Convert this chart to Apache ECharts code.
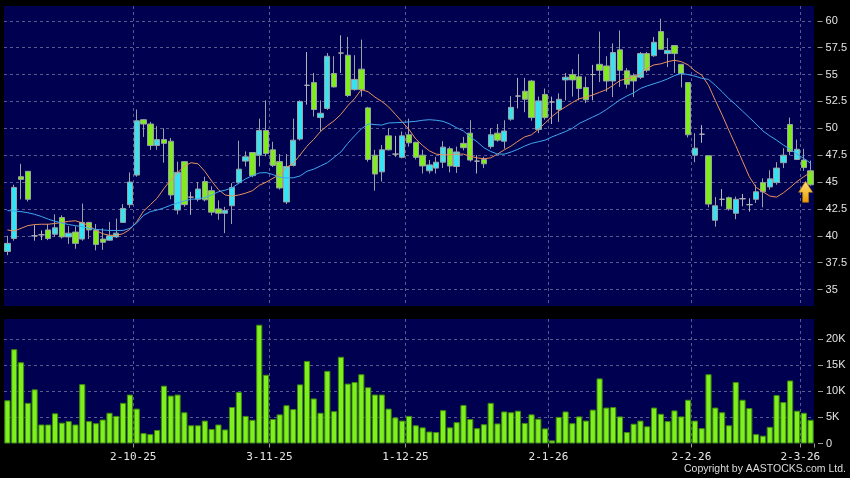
<!DOCTYPE html>
<html><head><meta charset="utf-8">
<script src="https://cdn.jsdelivr.net/npm/echarts@6/dist/echarts.min.js"></script>
<style>html,body{margin:0;padding:0;background:#000;}#c{width:850px;height:478px;}</style>
</head><body><div id="c"></div>
<script>
const dates = ['4-9-25','5-9-25','8-9-25','9-9-25','10-9-25','11-9-25','12-9-25','15-9-25','16-9-25','17-9-25','18-9-25','19-9-25','22-9-25','23-9-25','24-9-25','25-9-25','26-9-25','29-9-25','30-9-25',
'2-10-25','3-10-25','6-10-25','8-10-25','9-10-25','10-10-25','13-10-25','14-10-25','15-10-25','16-10-25','17-10-25','20-10-25','21-10-25','22-10-25','23-10-25','24-10-25','27-10-25','28-10-25','30-10-25','31-10-25',
'3-11-25','4-11-25','5-11-25','6-11-25','7-11-25','10-11-25','11-11-25','12-11-25','13-11-25','14-11-25','17-11-25','18-11-25','19-11-25','20-11-25','21-11-25','24-11-25','25-11-25','26-11-25','27-11-25','28-11-25',
'1-12-25','2-12-25','3-12-25','4-12-25','5-12-25','8-12-25','9-12-25','10-12-25','11-12-25','12-12-25','15-12-25','16-12-25','17-12-25','18-12-25','19-12-25','22-12-25','23-12-25','24-12-25','29-12-25','30-12-25','31-12-25',
'2-1-26','5-1-26','6-1-26','7-1-26','8-1-26','9-1-26','12-1-26','13-1-26','14-1-26','15-1-26','16-1-26','19-1-26','20-1-26','21-1-26','22-1-26','23-1-26','26-1-26','27-1-26','28-1-26','29-1-26','30-1-26',
'2-2-26','3-2-26','4-2-26','5-2-26','6-2-26','9-2-26','10-2-26','11-2-26','12-2-26','13-2-26','20-2-26','23-2-26','24-2-26','25-2-26','26-2-26','27-2-26',
'2-3-26','3-3-26'];
const tickLabels = ['2-10-25','3-11-25','1-12-25','2-1-26','2-2-26','2-3-26'];
const opens = [38.55,39.75,45.5,46.0,40.0,40.1,40.55,40.15,41.7,39.9,40.35,39.7,41.25,40.5,39.7,39.6,39.9,41.25,42.9,
45.65,50.8,50.4,48.4,48.95,48.8,42.4,46.9,43.6,43.4,45.05,44.2,42.5,42.1,42.8,44.95,46.95,47.75,47.5,49.8,
48.0,46.9,43.15,46.55,49.0,54.0,54.25,51.0,51.85,55.1,57.0,56.8,53.6,55.5,51.9,47.5,45.95,49.3,47.6,47.3,
49.4,48.7,47.5,46.05,46.3,46.85,48.1,46.45,48.6,49.55,46.95,47.1,48.3,49.55,48.8,50.85,53.0,53.45,54.4,49.9,53.15,
52.45,51.75,54.5,55.0,54.8,53.8,55.0,55.95,55.8,54.4,57.3,55.35,54.9,54.75,56.95,56.75,59.0,56.95,57.7,55.95,54.25,
47.5,49.45,47.45,41.45,43.4,43.55,42.1,43.45,42.9,43.4,44.95,44.55,44.95,46.8,50.35,47.1,
47.05,46.05];
const closes = [39.3,44.5,45.25,43.4,40.0,40.1,39.75,40.75,39.9,40.25,39.3,41.25,40.55,39.2,39.4,40.0,40.25,42.55,45.0,
50.7,50.4,48.4,48.95,48.6,43.8,45.9,42.9,43.6,44.35,43.35,42.2,42.1,42.35,44.5,46.2,47.35,45.6,49.8,47.65,
46.55,44.45,46.45,48.9,52.5,54.0,51.75,51.4,56.7,53.85,57.0,53.05,54.55,53.6,47.1,45.75,48.0,48.0,47.6,49.3,
48.65,47.3,46.5,46.6,46.85,48.25,46.5,47.8,48.2,47.05,46.95,46.7,49.4,48.9,49.75,51.95,53.0,52.7,51.0,52.55,51.0,
52.45,52.7,54.75,54.5,53.7,52.65,55.0,55.4,54.4,57.05,55.4,54.1,54.4,56.95,55.4,58.0,57.35,57.25,56.95,55.1,49.4,
48.15,49.45,42.95,42.8,43.4,42.5,43.4,43.45,42.9,44.1,44.1,45.3,46.3,47.5,47.85,48.05,
46.35,44.75];
const lows = [38.2,39.55,43.4,43.2,39.55,39.6,39.6,39.9,39.75,39.25,38.8,39.55,39.7,38.65,38.7,39.55,39.8,41.2,42.6,
45.5,49.2,48.0,48.0,46.8,43.4,42.0,42.7,41.95,43.2,43.2,41.9,41.5,40.25,41.1,44.8,46.45,45.45,46.45,47.4,
46.4,44.3,42.95,46.45,48.85,52.2,51.1,49.7,51.7,53.8,55.15,52.9,53.5,52.95,46.9,44.2,45.05,47.95,47.35,47.2,
48.3,47.1,45.8,45.8,45.8,46.3,45.9,45.85,47.95,46.9,45.8,46.3,48.1,48.75,48.1,50.7,51.85,51.5,50.7,49.55,50.8,
50.4,50.6,52.6,52.95,52.6,52.35,52.6,54.3,53.4,52.9,53.85,53.7,52.9,54.6,55.2,56.65,57.3,55.7,55.15,53.8,49.15,
46.85,48.65,42.65,40.85,42.75,42.35,41.55,42.75,42.25,43.05,42.65,44.3,44.75,46.3,47.5,47.05,
46.05,44.65];
const highs = [40.0,44.75,46.7,46.0,41.0,40.5,41.1,42.0,41.9,40.9,40.9,43.0,41.3,41.1,40.7,41.3,41.6,42.95,45.9,
51.75,50.85,50.6,50.2,50.0,49.1,46.9,46.9,44.1,45.0,45.5,44.6,43.3,42.7,44.9,48.85,47.85,47.75,50.9,52.6,
48.75,47.6,47.6,50.9,52.6,57.1,55.15,52.6,57.0,56.7,58.65,58.5,56.8,58.25,52.0,48.0,48.45,50.0,49.3,49.7,
50.9,48.75,48.0,47.05,47.35,48.8,48.3,48.3,49.2,50.75,47.5,47.35,50.0,50.4,50.75,53.0,54.7,54.7,54.5,52.95,53.7,
52.95,53.25,55.15,55.5,56.9,54.8,55.9,59.0,56.7,57.9,59.1,55.6,55.1,57.1,57.1,58.5,60.2,58.4,57.75,56.0,54.3,
49.55,50.3,47.45,43.6,44.35,43.65,43.65,43.9,43.5,44.75,45.35,46.1,46.85,48.15,51.0,48.95,
48.1,47.0];
const volumesK = [8.3,18.1,15.6,7.8,10.4,3.65,3.65,5.8,4.0,4.3,3.65,11.4,4.3,3.9,4.6,5.9,5.3,7.8,9.4,
6.7,2.0,1.8,2.6,11.1,9.2,9.4,6.0,3.5,3.5,4.4,2.8,3.65,2.7,7.0,9.9,5.3,4.55,22.8,13.2,
4.7,5.6,7.35,6.6,11.35,15.85,8.65,5.9,13.95,6.2,16.65,11.5,11.8,13.3,10.8,9.4,9.4,6.7,5.0,4.4,
5.3,3.5,3.1,2.3,2.2,6.4,3.1,4.1,7.4,4.7,2.95,3.7,7.8,3.85,6.15,6.0,6.3,3.95,5.6,4.75,2.9,
0.6,5.1,6.15,3.9,5.2,4.4,6.5,12.5,6.9,7.0,5.2,2.2,3.8,4.4,3.3,6.9,5.7,4.3,6.35,5.2,8.4,
4.4,2.95,13.3,6.9,6.0,3.5,11.8,8.4,6.8,1.8,1.5,3.2,9.3,7.95,12.1,6.3,
5.9,4.55];
const maFast = [40.55,40.45,40.7,40.95,41.05,41.08,41.08,41.15,41.25,41.35,41.4,41.2,40.95,40.5,40.2,40.05,40.05,40.2,40.6,
41.3,42.3,42.9,43.5,44.4,45.2,45.85,46.5,46.8,46.7,46.0,45.1,44.3,43.8,43.7,43.8,43.97,44.2,44.7,44.98,
45.35,45.7,46.35,46.75,47.52,48.33,48.97,49.7,50.25,50.7,51.3,52.1,52.75,53.6,53.4,52.9,52.5,52.0,51.3,50.6,
49.9,49.0,48.4,47.9,47.6,47.53,47.55,47.6,47.6,47.4,47.25,47.17,47.25,47.6,48.0,48.35,48.8,49.2,49.4,49.9,50.5,
51.1,51.6,52.0,52.4,52.75,52.9,53.1,53.35,53.6,54.0,54.45,54.6,54.75,55.05,55.6,55.9,56.0,56.2,56.33,56.2,55.9,
55.35,54.95,54.0,52.6,51.25,49.8,48.4,46.95,45.5,44.5,44.1,43.7,43.6,44.0,44.5,45.05,
45.5,45.9];
const maSlow = [42.35,42.3,42.25,42.15,42.0,41.8,41.55,41.35,41.2,41.05,40.95,40.85,40.7,40.6,40.55,40.5,40.5,40.5,40.7,
41.2,41.9,42.25,42.4,42.6,42.85,43.05,43.25,43.4,43.45,43.55,43.8,44.1,44.25,44.45,44.9,45.3,45.6,45.85,45.88,
45.7,45.45,45.38,45.4,45.57,46.0,46.2,46.5,46.8,47.3,47.8,48.6,49.3,49.95,50.4,50.35,50.3,50.5,50.52,50.55,
50.6,50.65,50.75,50.8,50.75,50.65,50.4,50.05,49.75,49.2,48.75,48.2,47.85,47.6,47.6,47.8,48.05,48.35,48.6,48.75,48.9,
49.2,49.45,49.7,50.0,50.45,50.75,51.05,51.35,51.75,52.2,52.65,53.0,53.3,53.7,53.95,54.15,54.35,54.6,54.9,55.1,55.0,
54.85,54.65,54.55,54.0,53.4,52.75,52.2,51.6,51.0,50.4,49.75,49.3,48.9,48.45,48.05,47.6,
47.2,46.75];

const UP = '#35e3f2', DOWN = '#80ec1e', DOJI = '#b4b4b4', EDGE = '#9aa3a3';
const NAVY = '#000050', GRIDC = '#5a5a90';
const isTick = (i, v) => tickLabels.indexOf(v) >= 0;
const candleData = dates.map((d, i) => {
  const v = [opens[i], closes[i], lows[i], highs[i]];
  if (opens[i] === closes[i]) {
    return { value: v, itemStyle: { color: DOJI, color0: DOJI, borderColor: DOJI, borderColor0: DOJI } };
  }
  return v;
});
const last = dates.length - 1;
const dashed = { color: GRIDC, width: 1, type: [3, 3] };
const labelFont = { color: '#e4e4e4', fontFamily: 'Liberation Sans', fontSize: 11 };

const chart = echarts.init(document.getElementById('c'));
chart.setOption({
  animation: false,
  backgroundColor: '#000000',
  grid: [
    { left: 4, right: 36, top: 6, height: 300, show: true, backgroundColor: NAVY, borderWidth: 0 },
    { left: 4, right: 36, top: 20.8, height: 268.8 },
    { left: 4, right: 36, top: 319, height: 124.5, show: true, backgroundColor: NAVY, borderWidth: 0 },
    { left: 4, right: 36, top: 339.3, height: 104.2 }
  ],
  xAxis: [
    { type: 'category', gridIndex: 0, data: dates, boundaryGap: true,
      axisLine: { show: false }, axisTick: { show: false }, axisLabel: { show: false },
      splitLine: { show: true, interval: isTick, showMaxLine: false, lineStyle: dashed } },
    { type: 'category', gridIndex: 1, data: dates, show: false },
    { type: 'category', gridIndex: 2, data: dates, boundaryGap: true,
      axisLine: { show: false }, axisTick: { show: false }, axisLabel: { show: false },
      splitLine: { show: true, interval: isTick, showMaxLine: false, lineStyle: dashed } },
    { type: 'category', gridIndex: 3, data: dates, boundaryGap: true, offset: 1,
      axisLine: { show: false },
      axisTick: { show: true, interval: isTick, length: 4, lineStyle: { color: '#9a9a9a' } },
      axisLabel: { show: true, interval: isTick, margin: 7, padding: [0, 7, 0, 0],
        color: '#e6e6e6', fontFamily: 'DejaVu Sans Mono', fontSize: 11 },
      splitLine: { show: false } }
  ],
  yAxis: [
    { type: 'value', gridIndex: 0, min: 33.475, max: 61.376, show: false },
    { type: 'value', gridIndex: 1, position: 'right', offset: 4, min: 35, max: 60, interval: 2.5,
      axisLine: { show: false },
      axisTick: { show: true, length: 5, lineStyle: { color: '#9a9a9a' } },
      axisLabel: Object.assign({ margin: 8 }, labelFont),
      splitLine: { show: true, lineStyle: dashed } },
    { type: 'value', gridIndex: 2, min: 0, max: 23.9, show: false },
    { type: 'value', gridIndex: 3, position: 'right', offset: 4, min: 0, max: 20, interval: 5,
      axisLine: { show: false },
      axisTick: { show: true, length: 5, lineStyle: { color: '#9a9a9a' } },
      axisLabel: Object.assign({ margin: 8, formatter: v => v === 0 ? '0' : v + 'K' }, labelFont),
      splitLine: { show: true, showMinLine: false, lineStyle: dashed } }
  ],
  series: [
    { type: 'candlestick', xAxisIndex: 0, yAxisIndex: 0, data: candleData, barWidth: '86%',
      itemStyle: { color: UP, color0: DOWN, borderColor: EDGE, borderColor0: EDGE, borderWidth: 1 },
      markPoint: {
        silent: true,
        symbol: 'path://M7,0 L14,11 L10,11 L10,21 L4,21 L4,11 L0,11 Z',
        symbolSize: [14, 21], symbolOffset: [-5, 7],
        label: { show: false },
        itemStyle: {
          color: new echarts.graphic.LinearGradient(0, 0, 0, 1, [
            { offset: 0, color: '#ffe27a' }, { offset: 1, color: '#e89a00' }]),
          borderColor: '#b87800', borderWidth: 0.6
        },
        data: [{ coord: [last, closes[last]] }]
      } },
    { type: 'line', xAxisIndex: 0, yAxisIndex: 0, data: maFast, symbol: 'none',
      lineStyle: { color: '#e8915e', width: 1 }, itemStyle: { color: '#e8915e' }, z: 3 },
    { type: 'line', xAxisIndex: 0, yAxisIndex: 0, data: maSlow, symbol: 'none',
      lineStyle: { color: '#3fa8f0', width: 1 }, itemStyle: { color: '#3fa8f0' }, z: 3 },
    { type: 'bar', xAxisIndex: 2, yAxisIndex: 2, data: volumesK, barCategoryGap: '10%',
      itemStyle: { color: '#7ff01e', borderColor: '#3f8a0c', borderWidth: 1 } }
  ],
  graphic: [
    { type: 'text', right: 4, top: 464,
      style: { text: 'Copyright by AASTOCKS.com Ltd.', fill: '#dcdcdc', fontFamily: 'Liberation Sans', fontSize: 10.5 } }
  ]
});
</script>
</body></html>
